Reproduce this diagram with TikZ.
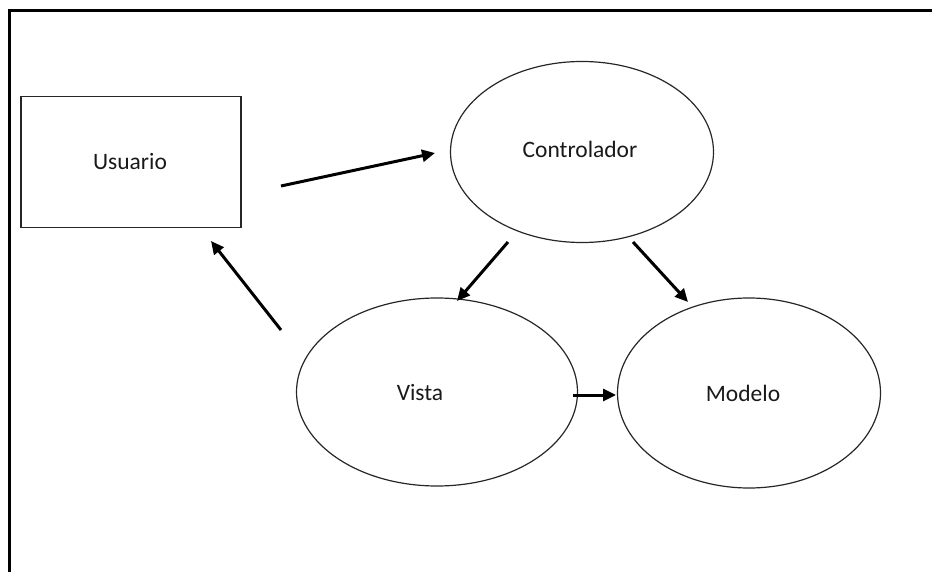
\documentclass[tikz,border=0pt]{standalone}
\usepackage{fontspec}
\setmainfont{Carlito}
\usetikzlibrary{shapes.geometric,arrows.meta}
\begin{document}
\begin{tikzpicture}[x=1pt,y=-1pt,
  box/.style={draw=black!85,line width=1.3pt,minimum width=220pt,minimum height=131pt,inner sep=0pt},
  oval/.style={draw=black!85,ellipse,line width=1.2pt,inner sep=0pt},
  lbl/.style={font=\fontsize{23.5}{28}\selectfont,inner sep=0pt,text=black!90},
  conn/.style={line width=3pt,-{Triangle[length=13pt,width=12pt]}},
  frame/.style={line width=2.2pt}]
\useasboundingbox (0,0) rectangle (932,572);
\draw[frame] (9.5,572) -- (9.5,10.5) -- (932,10.5);
\node[box] (usr) at (131,162) {};
\node[lbl] (usrt) at (130,162) {Usuario};
\node[oval,minimum width=263pt,minimum height=181pt] (ctl) at (582,152) {};
\node[lbl] (ctlt) at (580,149) {Controlador};
\node[oval,minimum width=281pt,minimum height=188pt] (vis) at (437,392) {};
\node[lbl] (vist) at (420,393) {Vista};
\node[oval,minimum width=263pt,minimum height=190pt] (mod) at (749,393) {};
\node[lbl] (modt) at (743,393) {Modelo};
\coordinate (a1s) at (281,186); \coordinate (a1e) at (435,153);
\coordinate (a2s) at (281,330); \coordinate (a2e) at (211,241);
\coordinate (a3s) at (508,242); \coordinate (a3e) at (457,301);
\coordinate (a4s) at (633,242); \coordinate (a4e) at (688,302);
\coordinate (a5s) at (573,395); \coordinate (a5e) at (616,395);
\draw[conn] (a1s) -- (a1e);
\draw[conn] (a2s) -- (a2e);
\draw[conn] (a3s) -- (a3e);
\draw[conn] (a4s) -- (a4e);
\draw[conn] (a5s) -- (a5e);
\end{tikzpicture}
\end{document}
